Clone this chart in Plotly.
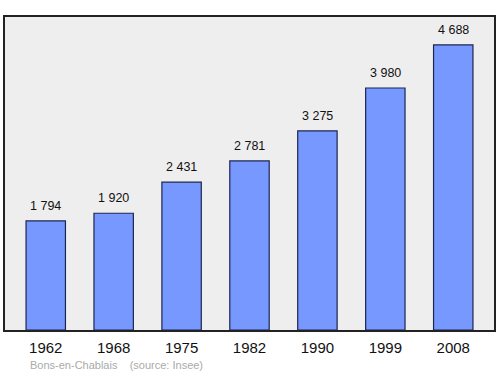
import plotly.graph_objects as go

years = ["1962", "1968", "1975", "1982", "1990", "1999", "2008"]
population = [1794, 1920, 2431, 2781, 3275, 3980, 4688]
labels = ["1 794", "1 920", "2 431", "2 781", "3 275", "3 980", "4 688"]

FONT = "Liberation Sans, Arial, sans-serif"

fig = go.Figure()
fig.add_trace(go.Bar(
    x=list(range(len(years))), y=population,
    width=0.58,
    marker=dict(color="#7799ff", line=dict(color="#1c2550", width=1.2)),
    hoverinfo="skip",
))
for i, (v, t) in enumerate(zip(population, labels)):
    fig.add_annotation(x=i, y=v, text=t, showarrow=False, yanchor="bottom",
                       yshift=6, font=dict(family=FONT, size=12.5, color="#111"))

fig.add_annotation(xref="paper", yref="paper", x=23/491, y=-35/313, xanchor="left",
                   yanchor="middle", showarrow=False,
                   text="Bons-en-Chablais&nbsp;&nbsp;&nbsp;&nbsp;(source: Insee)",
                   font=dict(family=FONT, size=11, color="#aaaaaa"))

fig.update_layout(
    width=500, height=374,
    margin=dict(l=5, r=4, t=17, b=44),
    paper_bgcolor="white", plot_bgcolor="#eeeeee",
    showlegend=False,
    xaxis=dict(range=[-0.6, 6.6], tickvals=list(range(len(years))), ticktext=years,
               showgrid=False, zeroline=False, showline=True, mirror=True,
               linecolor="#222", linewidth=1.5, ticks="", ticklabelstandoff=3,
               tickfont=dict(family=FONT, size=15, color="#111")),
    yaxis=dict(range=[0, 5148], showgrid=False, zeroline=False, showticklabels=False,
               showline=True, mirror=True, linecolor="#222", linewidth=1.5, ticks=""),
)
fig.write_html("out.html", config={"displayModeBar": False},
               post_script="document.body.style.margin='0';")
